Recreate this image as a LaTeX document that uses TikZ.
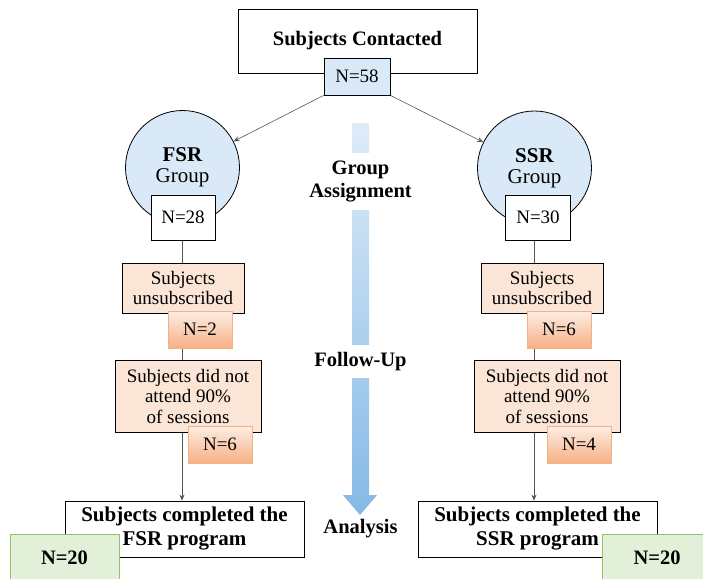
\documentclass[tikz,border=0pt]{standalone}
\usepackage{fontspec}
\setmainfont{Liberation Serif}
\usetikzlibrary{arrows.meta,backgrounds}

\definecolor{skyfill}{HTML}{DAE9F7}
\definecolor{peach}{HTML}{FBE5D6}
\definecolor{peachtop}{HTML}{FDEEE5}
\definecolor{peachbot}{HTML}{F6B085}
\definecolor{peachline}{HTML}{F4B183}
\definecolor{mint}{HTML}{E2F0D9}
\definecolor{mintline}{HTML}{8CC46A}
\definecolor{flowtop}{HTML}{DFECF8}
\definecolor{flowbot}{HTML}{84B9E6}
\definecolor{linkgray}{HTML}{555555}

\begin{document}
\begin{tikzpicture}[x=1pt,y=-1pt,
  rtxt/.style={font=\fontsize{19}{20.5}\selectfont, align=center},
  ntxt/.style={font=\fontsize{19}{22}\selectfont, align=center},
  btxt/.style={font=\bfseries\fontsize{20.5}{23.5}\selectfont, align=center},
  whitebox/.style={draw=black, line width=0.8pt, fill=white, inner sep=0pt},
  groupcircle/.style={circle, draw=black, line width=0.8pt, fill=skyfill, inner sep=0pt,
    minimum size=114pt, align=center, font=\fontsize{21}{21}\selectfont},
  dropbox/.style={draw=black, line width=0.8pt, fill=peach, inner sep=0pt, rtxt},
  countbox/.style={draw=peachline, line width=0.7pt, top color=peachtop, bottom color=peachbot,
    inner sep=0pt, minimum width=64pt, minimum height=37pt, ntxt},
  finalcount/.style={draw=mintline, line width=0.8pt, fill=mint, inner sep=0pt,
    minimum width=109pt, minimum height=48pt, btxt},
  stagelabel/.style={fill=white, inner sep=0pt, btxt, minimum width=112pt},
  conn/.style={draw=linkgray, line width=0.6pt, -{Stealth[length=6pt,width=5pt]}},
  trunk/.style={draw=linkgray, line width=0.6pt}
]
\useasboundingbox (0,0) rectangle (703,578);

% top entry
\node[whitebox, btxt, minimum width=239pt, minimum height=64pt] (contact) at (357.5,41) {Subjects Contacted};
\node[whitebox, fill=skyfill, ntxt, minimum width=66pt, minimum height=37pt] (n58) at (357,76.5) {N=58};

% groups
\node[groupcircle] (fsr) at (182.5,167.5) {\textbf{FSR}\\Group};
\node[groupcircle] (ssr) at (534.5,168) {\textbf{SSR}\\Group};
\node[whitebox, ntxt, minimum width=64pt, minimum height=45pt] (n28) at (183,217.5) {N=28};
\node[whitebox, ntxt, minimum width=65pt, minimum height=45pt] (n30) at (538,217.5) {N=30};

% left column
\node[dropbox, minimum width=122pt, minimum height=50pt] (unsubL) at (183,288) {Subjects\\unsubscribed};
\node[countbox] (n2) at (200,329.5) {N=2};
\node[dropbox, minimum width=146pt, minimum height=72pt] (absL) at (188,396) {Subjects did not\\attend 90\%\\of sessions};
\node[countbox] (n6L) at (220,444.5) {N=6};
\node[whitebox, btxt, font=\bfseries\fontsize{21}{24}\selectfont, minimum width=239pt, minimum height=56pt] (doneL) at (184.5,529) {Subjects completed the\\FSR program};
\node[finalcount] (n20L) at (64.5,558) {N=20};

% right column
\node[dropbox, minimum width=122pt, minimum height=50pt] (unsubR) at (542,288) {Subjects\\unsubscribed};
\node[countbox] (n6R) at (559,329.5) {N=6};
\node[dropbox, minimum width=146pt, minimum height=72pt] (absR) at (547,396) {Subjects did not\\attend 90\%\\of sessions};
\node[countbox] (n4) at (579,444.5) {N=4};
\node[whitebox, btxt, font=\bfseries\fontsize{21}{24}\selectfont, minimum width=239pt, minimum height=56pt] (doneR) at (537.5,529) {Subjects completed the\\SSR program};
\node[finalcount] (n20R) at (657,558) {N=20};

% stage arrow in the middle
\shade[top color=flowtop, bottom color=flowbot]
  (352,123) -- (369,123) -- (369,495) -- (377,495) -- (360,515) -- (343,495) -- (352,495) -- cycle;
\node[stagelabel, minimum height=57pt] (assign) at (360.5,181.5) {Group\\Assignment};
\node[stagelabel, minimum height=33pt] (follow) at (360.5,361.5) {Follow-Up};
\node[btxt, inner sep=0pt] (analysis) at (360.5,529) {Analysis};

% connectors behind the boxes
\coordinate (colL) at (182,0);
\coordinate (colR) at (534,0);
\begin{scope}[on background layer]
  \draw[conn] (n58.south west) -- (fsr);
  \draw[conn] (n58.south east) -- (ssr);
  \draw[trunk] (colL |- n28.south) -- (colL |- absL.north);
  \draw[conn] (colL |- absL.south) -- (colL |- doneL.north);
  \draw[trunk] (colR |- n30.south) -- (colR |- absR.north);
  \draw[conn] (colR |- absR.south) -- (colR |- doneR.north);
\end{scope}
\end{tikzpicture}
\end{document}
